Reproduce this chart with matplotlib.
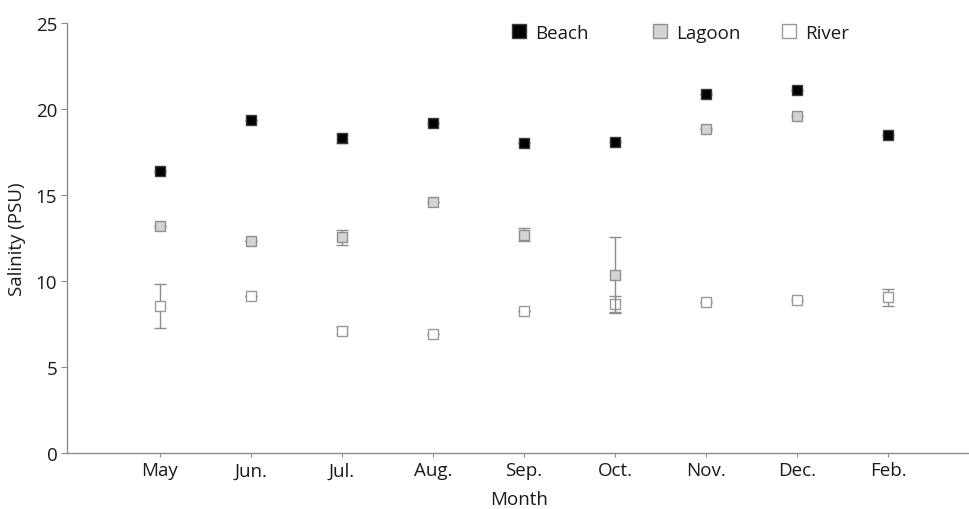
import matplotlib
matplotlib.use("Agg")
import matplotlib.pyplot as plt
from matplotlib.lines import Line2D
import numpy as np

months = ["May", "Jun.", "Jul.", "Aug.", "Sep.", "Oct.", "Nov.", "Dec.", "Feb."]
beach = [16.4, 19.35, 18.3, 19.2, 18.0, 18.1, 20.85, 21.1, 18.5]
beach_err = [0.0, 0.0, 0.25, 0.0, 0.0, 0.0, 0.0, 0.0, 0.0]
lagoon = [13.2, 12.35, 12.55, 14.6, 12.7, 10.35, 18.85, 19.6, None]
lagoon_err = [0.0, 0.0, 0.43, 0.0, 0.4, 2.2, 0.0, 0.0, 0.0]
river = [8.55, 9.1, 7.1, 6.9, 8.25, 8.65, 8.8, 8.9, 9.05]
river_err = [1.28, 0.0, 0.2, 0.0, 0.0, 0.45, 0.0, 0.0, 0.5]

plt.rcParams['font.family'] = ['Open Sans', 'DejaVu Sans']
FS = 13.5
TXT = "#1a1a1a"

fig = plt.figure(figsize=(9.69, 5.10), dpi=100)
ax = fig.add_axes([67/969, 56/510, (972-67)/969, (454-24)/510])

x = np.arange(len(months))
axis_col = "#8c8c8c"
err_col = "#8c8c8c"

styles = {
    "Beach": ("black", "#3a3a3a"),
    "Lagoon": ("#d3d3d3", "#8f8f8f"),
    "River": ("white", "#999999"),
}

def draw(vals, errs, label, z):
    face, edge = styles[label]
    xs = [xi for xi, v in zip(x, vals) if v is not None]
    vs = [v for v in vals if v is not None]
    es = [e for e, v in zip(errs, vals) if v is not None]
    ax.errorbar(xs, vs, yerr=es, fmt='none', ecolor=err_col, elinewidth=1.0,
                capsize=4, capthick=1.0, zorder=z)
    ax.plot(xs, vs, linestyle='none', marker='s', markersize=7,
            markerfacecolor=face, markeredgecolor=edge, markeredgewidth=1.0,
            zorder=z + 1)

draw(river, river_err, "River", 2)
draw(lagoon, lagoon_err, "Lagoon", 4)
draw(beach, beach_err, "Beach", 6)

ax.set_xlim(-1.02, 8.92)
ax.set_ylim(0, 25)
ax.set_yticks([0, 5, 10, 15, 20, 25])
ax.set_xticks(x)
ax.set_xticklabels(months)

for s in ["top", "right"]:
    ax.spines[s].set_visible(False)
for s in ["left", "bottom"]:
    ax.spines[s].set_color(axis_col)
    ax.spines[s].set_linewidth(1.0)

ax.tick_params(axis='y', length=4, color=axis_col, labelsize=FS,
               labelcolor=TXT, pad=3)
ax.tick_params(axis='x', length=3, color=axis_col, labelsize=FS,
               labelcolor=TXT, pad=3)

ax.set_ylabel("Salinity (PSU)", fontsize=FS, color=TXT, labelpad=7)
ax.set_xlabel("Month", fontsize=FS, color=TXT, labelpad=8)

# legend entries at their own positions (figure pixel coords of marker centre)
leg_pos = {"Beach": 519, "Lagoon": 660, "River": 789}
for name, px in leg_pos.items():
    face, edge = styles[name]
    h = Line2D([], [], linestyle='none', marker='s', markersize=10.5,
               markerfacecolor=face, markeredgecolor=edge, markeredgewidth=1.0)
    lg = fig.legend([h], [name], loc='center left',
                    bbox_to_anchor=((px - 9) / 969, 1 - 34 / 510),
                    frameon=False, fontsize=FS, handletextpad=0.35,
                    handlelength=1.0, borderaxespad=0, borderpad=0)
    for t in lg.get_texts():
        t.set_color(TXT)

fig.savefig("out.png", dpi=100)
